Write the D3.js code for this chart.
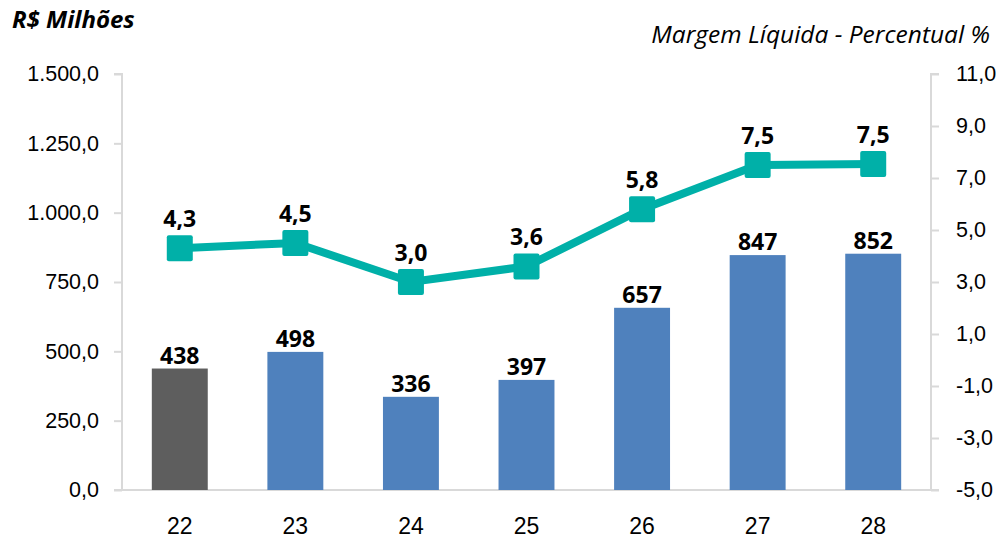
<!DOCTYPE html>
<html><head><meta charset="utf-8">
<script src="https://cdn.jsdelivr.net/npm/d3@7"></script>
<style>body{margin:0;background:#fff}svg{display:block;font-family:"Open Sans",Lato,sans-serif}</style>
</head><body><svg id="c" width="1002" height="539"></svg>
<script>
const categories = ["22","23","24","25","26","27","28"];
const revenue = [438, 498, 336, 397, 657, 847, 852];
const margin = [4.3, 4.5, 3.0, 3.6, 5.8, 7.5, 7.54];
const leftTicks = [0, 250, 500, 750, 1000, 1250, 1500];
const rightTicks = [-5, -3, -1, 1, 3, 5, 7, 9, 11];

const svg = d3.select("#c");
const L = 122, R = 931, T = 74, B = 490;
const fmt = v => d3.format(",.1f")(v).replace(/,/g, "#").replace(".", ",").replace(/#/g, ".").replace("\u2212", "-");

const x = d3.scaleBand().domain(categories).range([L, R]).paddingInner(0.516).paddingOuter(0.258);
const yL = d3.scaleLinear().domain([0, 1500]).range([B, T]);
const yR = d3.scaleLinear().domain([-5, 11]).range([B, T]);

const axisColor = "#d9d9d9";
const gl = svg.append("g").attr("transform", `translate(${L},0)`)
  .call(d3.axisLeft(yL).tickValues(leftTicks).tickFormat(fmt).tickSize(8).tickPadding(15));
const gr = svg.append("g").attr("transform", `translate(${R},0)`)
  .call(d3.axisRight(yR).tickValues(rightTicks).tickFormat(fmt).tickSize(8).tickPadding(17));
const gb = svg.append("g").attr("transform", `translate(0,${B})`)
  .call(d3.axisBottom(x).tickSize(0));
[gl, gr, gb].forEach(g => {
  g.selectAll("path, line").attr("stroke", axisColor).attr("stroke-width", 2);
  g.selectAll("text").attr("font-size", 21.5).attr("fill", "#000");
});
gb.selectAll("text").attr("font-size", 23).attr("y", 44).attr("dy", 0);
gb.select("path").attr("d", `M${L - 8},0H${R + 8}`);
gl.select("path").attr("d", `M-8,${T}H0V${B}`);
gr.select("path").attr("d", `M8,${T}H0V${B}`);

// bars
svg.append("g").selectAll("rect").data(revenue).join("rect")
  .attr("x", (d, i) => x(categories[i]))
  .attr("width", x.bandwidth())
  .attr("y", d => yL(d))
  .attr("height", d => B - yL(d))
  .attr("fill", (d, i) => i === 0 ? "#5e5e5e" : "#4f81bd");
svg.append("g").selectAll("text").data(revenue).join("text")
  .attr("x", (d, i) => x(categories[i]) + x.bandwidth() / 2)
  .attr("y", d => yL(d) - 5)
  .attr("text-anchor", "middle").attr("font-size", 23).attr("font-weight", "bold")
  .text(d => d);

// line
const cx = i => x(categories[i]) + x.bandwidth() / 2;
svg.append("path").datum(margin)
  .attr("d", d3.line().x((d, i) => cx(i)).y(d => yR(d)))
  .attr("fill", "none").attr("stroke", "#00b0a8").attr("stroke-width", 8);
svg.append("g").selectAll("rect").data(margin).join("rect")
  .attr("x", (d, i) => cx(i) - 13).attr("y", d => yR(d) - 13)
  .attr("width", 26).attr("height", 26).attr("rx", 2)
  .attr("fill", "#00b0a8");
svg.append("g").selectAll("text").data(margin).join("text")
  .attr("x", (d, i) => cx(i))
  .attr("y", d => yR(d) - 21)
  .attr("text-anchor", "middle").attr("font-size", 23).attr("font-weight", "bold")
  .text(d => d.toFixed(1).replace(".", ","));

// titles
svg.append("text").attr("x", 12).attr("y", 28).attr("font-size", 24)
  .attr("font-weight", "bold").attr("font-style", "italic").text("R$ Milhões");
svg.append("text").attr("x", 990).attr("y", 43).attr("text-anchor", "end").attr("font-size", 24.5)
  .attr("font-style", "italic").text("Margem Líquida - Percentual %");
</script></body></html>
